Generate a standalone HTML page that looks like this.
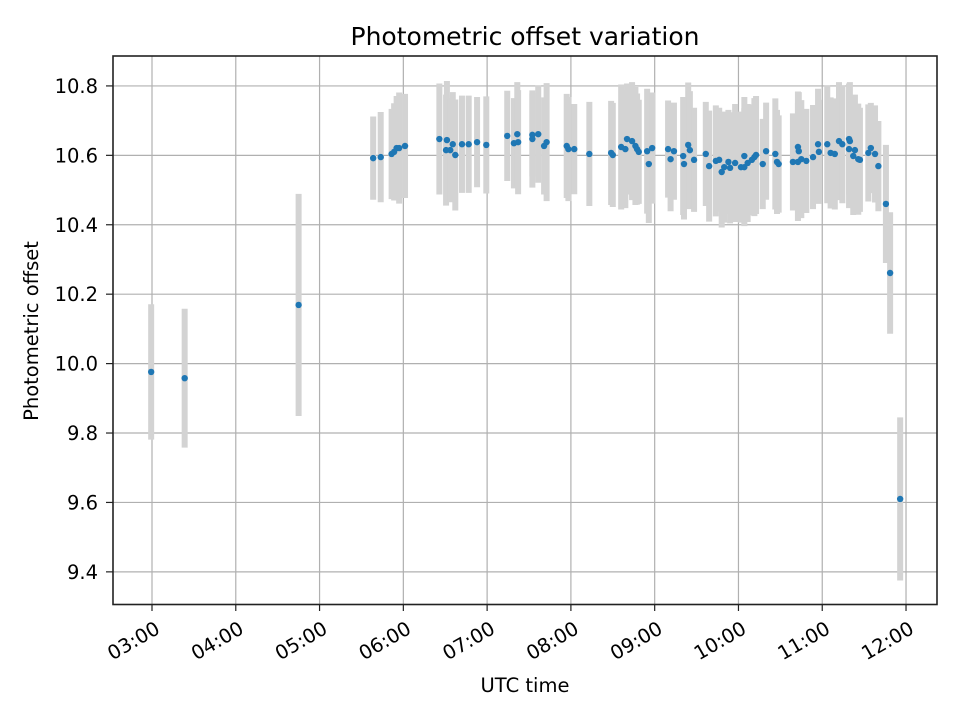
<!DOCTYPE html>
<html><head><meta charset="utf-8"><style>
html,body{margin:0;padding:0;background:#fff;}
svg text{font-family:"DejaVu Sans","Liberation Sans",sans-serif;fill:#000;}
</style></head><body>
<svg id="chart" width="960" height="720" xmlns="http://www.w3.org/2000/svg">
<rect x="0" y="0" width="960" height="720" fill="#fff"/>
<g id="grid"></g>
<g id="errs"></g>
<g id="pts"></g>
<rect x="113" y="56" width="824" height="548.5" fill="none" stroke="#222" stroke-width="1.6"/>
<g id="ticks"></g>
<text x="525" y="45" text-anchor="middle" font-size="25">Photometric offset variation</text>
<text x="525" y="692" text-anchor="middle" font-size="19.5">UTC time</text>
<text transform="translate(38,331) rotate(-90)" text-anchor="middle" font-size="19.5">Photometric offset</text>
</svg>
<script>
const times=[2.99,3.39,4.75,5.64,5.73,5.86,5.89,5.92,5.95,6.02,6.43,6.52,6.51,6.56,6.59,6.62,6.70,6.78,6.88,6.99,7.24,7.32,7.36,7.37,7.54,7.54,7.61,7.68,7.71,7.95,7.97,8.04,8.22,8.48,8.50,8.60,8.65,8.67,8.73,8.77,8.79,8.81,8.91,8.93,8.97,9.16,9.19,9.23,9.34,9.35,9.40,9.42,9.47,9.61,9.65,9.73,9.77,9.80,9.83,9.88,9.90,9.96,10.03,10.07,10.07,10.11,10.16,10.19,10.21,10.29,10.33,10.44,10.46,10.48,10.65,10.71,10.71,10.72,10.75,10.81,10.89,10.95,10.96,11.06,11.10,11.15,11.20,11.24,11.32,11.32,11.33,11.37,11.39,11.43,11.45,11.55,11.58,11.63,11.67,11.76,11.81,11.93];
const offsets=[9.976,9.958,10.169,10.592,10.595,10.604,10.610,10.621,10.621,10.627,10.647,10.644,10.615,10.615,10.632,10.601,10.632,10.632,10.638,10.630,10.656,10.635,10.661,10.638,10.659,10.647,10.661,10.627,10.638,10.627,10.618,10.618,10.604,10.607,10.601,10.624,10.618,10.647,10.641,10.627,10.618,10.610,10.612,10.575,10.621,10.618,10.589,10.612,10.598,10.575,10.630,10.615,10.587,10.604,10.569,10.584,10.587,10.552,10.566,10.581,10.564,10.578,10.566,10.598,10.566,10.578,10.587,10.595,10.601,10.575,10.612,10.604,10.581,10.575,10.581,10.581,10.624,10.612,10.589,10.584,10.595,10.632,10.610,10.632,10.607,10.604,10.641,10.632,10.647,10.618,10.641,10.598,10.615,10.589,10.587,10.607,10.621,10.604,10.569,10.460,10.261,9.610];
const errors=[0.195,0.2,0.32,0.12,0.13,0.13,0.14,0.15,0.16,0.15,0.16,0.17,0.16,0.15,0.15,0.16,0.14,0.14,0.13,0.14,0.13,0.13,0.15,0.15,0.12,0.14,0.14,0.14,0.17,0.15,0.15,0.13,0.15,0.15,0.15,0.18,0.17,0.16,0.17,0.17,0.16,0.15,0.18,0.17,0.16,0.14,0.15,0.14,0.17,0.16,0.18,0.17,0.15,0.15,0.16,0.16,0.15,0.16,0.16,0.15,0.16,0.17,0.16,0.17,0.17,0.17,0.16,0.17,0.17,0.13,0.14,0.16,0.15,0.14,0.14,0.17,0.16,0.17,0.17,0.15,0.15,0.16,0.15,0.17,0.16,0.16,0.17,0.17,0.16,0.17,0.17,0.17,0.16,0.16,0.15,0.14,0.13,0.14,0.13,0.17,0.175,0.235];
const xTickHours=[3,4,5,6,7,8,9,10,11,12];
const xTickLabels=["03:00","04:00","05:00","06:00","07:00","08:00","09:00","10:00","11:00","12:00"];
const yTicks=[9.4,9.6,9.8,10.0,10.2,10.4,10.6,10.8];
const yTickLabels=["9.4","9.6","9.8","10.0","10.2","10.4","10.6","10.8"];

const NS="http://www.w3.org/2000/svg";
function X(h){return 152+(h-3)*83.78;}
function Y(v){return 363.6-(v-10)*347.1;}
function mk(tag,attrs,parent){const e=document.createElementNS(NS,tag);for(const k in attrs)e.setAttribute(k,attrs[k]);parent.appendChild(e);return e;}
const grid=document.getElementById('grid'),ticks=document.getElementById('ticks'),errs=document.getElementById('errs'),pts=document.getElementById('pts');
xTickHours.forEach((h,i)=>{
  const x=X(h);
  const g=mk('line',{x1:x,x2:x,y1:56,y2:604.5,stroke:'#b0b0b0','stroke-width':1.2},grid);
  
  
  const t=mk('line',{x1:x,x2:x,y1:604.5,y2:611,stroke:'#222','stroke-width':1.2},ticks);
  
  
  const l=mk('text',{transform:`translate(${x+2},${620}) rotate(-30)`,'text-anchor':'end','font-size':19.5,'dominant-baseline':'hanging'},ticks);
  l.textContent=xTickLabels[i];
  
  
});
yTicks.forEach((v,i)=>{
  const y=Y(v);
  const g=mk('line',{x1:113,x2:937,y1:y,y2:y,stroke:'#b0b0b0','stroke-width':1.2},grid);
  
  
  const t=mk('line',{x1:106,x2:113,y1:y,y2:y,stroke:'#222','stroke-width':1.2},ticks);
  
  
  const l=mk('text',{x:98,y:y+7,'text-anchor':'end','font-size':19.5},ticks);
  l.textContent=yTickLabels[i];
  
  
});
times.forEach((h,i)=>{
  const x=X(h),v=offsets[i],e=errors[i];
  const b=mk('line',{x1:x,x2:x,y1:Y(v+e),y2:Y(v-e),stroke:'#d3d3d3','stroke-width':6},errs);
  
  
  const c=mk('circle',{cx:x,cy:Y(v),r:3.2,fill:'#1f77b4'},pts);
  
  
});
</script>
</body></html>
